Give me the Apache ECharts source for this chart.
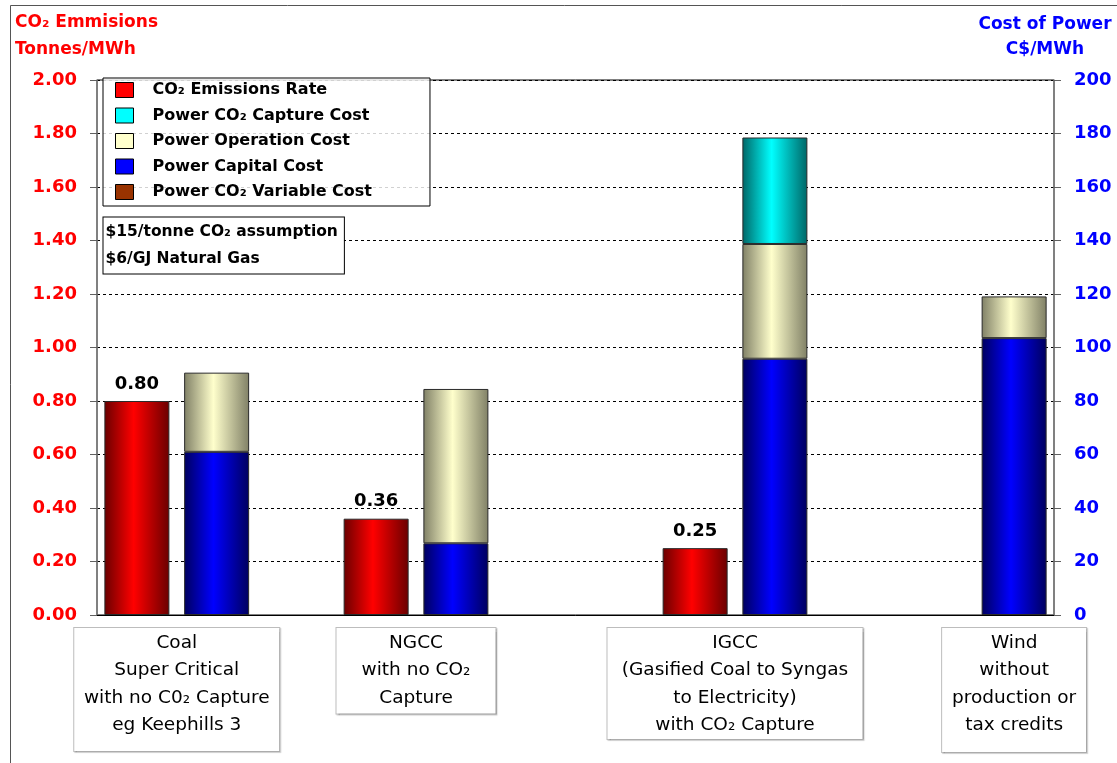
<!DOCTYPE html>
<html>
<head>
<meta charset="utf-8">
<script src="https://cdn.jsdelivr.net/npm/echarts@6/dist/echarts.min.js"></script>
<style>
html,body{margin:0;padding:0;background:#fff;}
#chart{width:1117px;height:763px;}
</style>
</head>
<body>
<div id="chart"></div>
<script>
// ---- data ----
const slots = ['Coal CO₂', 'Coal cost', 'gap1', 'NGCC CO₂', 'NGCC cost', 'gap2', 'gap3', 'IGCC CO₂', 'IGCC cost', 'gap4', 'Wind CO₂', 'Wind cost'];
const plants = ['Coal', 'NGCC', 'IGCC', 'Wind'];
const plantLabels = [
  'Coal\nSuper Critical\nwith no C0₂ Capture\neg Keephills 3',
  'NGCC\nwith no CO₂\nCapture',
  'IGCC\n(Gasified Coal to Syngas\nto Electricity)\nwith CO₂ Capture',
  'Wind\nwithout\nproduction or\ntax credits'
];
const co2Rate = [0.80, 0.36, 0.25, 0];
const capitalCost = [61, 26.8, 95.8, 103.5];
const operationCost = [29.6, 57.7, 42.9, 15.6];
const captureCost = [0, 0, 39.8, 0];
const variableCost = [0, 0, 0, 0];
const seriesNames = ['CO₂ Emissions Rate', 'Power CO₂ Capture Cost', 'Power Operation Cost', 'Power Capital Cost', 'Power CO₂ Variable Cost'];

// ---- build ----
const FONT = '"DejaVu Sans"';
function slotData(values, suffix) {
  return slots.map(s => {
    const i = plants.findIndex(p => s === p + suffix);
    return (i >= 0 && values[i] > 0) ? values[i] : '-';
  });
}
function grad(edge, mid) {
  return { type: 'linear', x: 0, y: 0, x2: 1, y2: 0,
    colorStops: [{ offset: 0, color: edge }, { offset: 0.45, color: mid }, { offset: 1, color: edge }] };
}
const boxStyles = [
  { width: 203, padding: [1, 1, 12, 1] },
  { width: 157, padding: [1, 1, 2, 1] },
  { width: 253, padding: [1, 1, 0, 1] },
  { width: 142, padding: [1, 1, 13, 1] }
];
const labelAxisData = [];
for (let k = 0; k <= slots.length * 2; k++) labelAxisData.push({ value: '' });
plants.forEach((p, i) => {
  const cs = slots.indexOf(p + ' cost');
  const k = co2Rate[i] > 0 ? 2 * cs : 2 * cs + 1;
  labelAxisData[k] = {
    value: plantLabels[i],
    textStyle: Object.assign({
      backgroundColor: '#fff', borderColor: '#bdbdbd', borderWidth: 1,
      shadowColor: 'rgba(0,0,0,0.18)', shadowOffsetX: 1, shadowOffsetY: 1, shadowBlur: 1
    }, boxStyles[i])
  };
});

const BW = 65;
const border = { borderColor: '#2a2a2a', borderWidth: 1 };
const option = {
  animation: false,
  backgroundColor: '#fff',
  grid: { left: 97, right: 63, top: 80, bottom: 148, show: true, borderColor: '#000', borderWidth: 1, backgroundColor: 'transparent' },
  xAxis: [
    { type: 'category', data: slots, gridIndex: 0, position: 'bottom',
      axisLine: { show: true, lineStyle: { color: '#000', width: 1 } },
      axisTick: { show: false }, axisLabel: { show: false }, splitLine: { show: false } },
    { type: 'category', data: labelAxisData, gridIndex: 0, position: 'bottom', boundaryGap: false,
      axisLine: { show: false }, axisTick: { show: false }, splitLine: { show: false },
      axisLabel: { interval: 0, margin: 13, color: '#000', fontFamily: FONT, fontSize: 18.5,
        lineHeight: 27.5, align: 'center', hideOverlap: false } }
  ],
  yAxis: [
    { type: 'value', min: 0, max: 2, interval: 0.2, position: 'left',
      axisLine: { show: true, lineStyle: { color: '#808080', width: 1.5 } },
      axisTick: { show: true, inside: false, length: 7, lineStyle: { color: '#606060' } },
      axisLabel: { margin: 20, color: '#ff0000', fontFamily: FONT, fontWeight: 'bold', fontSize: 18,
        formatter: v => v.toFixed(2) },
      splitLine: { show: true, lineStyle: { color: '#000', type: [3, 3], width: 1 } } },
    { type: 'value', min: 0, max: 200, interval: 20, position: 'right',
      axisLine: { show: true, lineStyle: { color: '#808080', width: 1.5 } },
      axisTick: { show: true, inside: false, length: 7, lineStyle: { color: '#606060' } },
      axisLabel: { margin: 20, color: '#0000ff', fontFamily: FONT, fontWeight: 'bold', fontSize: 18 },
      splitLine: { show: false } }
  ],
  legend: {
    orient: 'vertical', left: 103, top: 78, padding: [1, 58, 3, 12],
    itemWidth: 18, itemHeight: 15, itemGap: 3.5, icon: 'rect',
    backgroundColor: 'rgba(255,255,255,0.82)', borderColor: '#000', borderWidth: 1,
    selectedMode: false,
    textStyle: { fontFamily: FONT, fontWeight: 'bold', fontSize: 16, color: '#000', lineHeight: 18, padding: [4, 0, 0, 14] },
    data: [
      { name: seriesNames[0], itemStyle: { color: '#ff0000', borderColor: '#000', borderWidth: 1 } },
      { name: seriesNames[1], itemStyle: { color: '#00ffff', borderColor: '#000', borderWidth: 1 } },
      { name: seriesNames[2], itemStyle: { color: '#ffffcc', borderColor: '#000', borderWidth: 1 } },
      { name: seriesNames[3], itemStyle: { color: '#0000ff', borderColor: '#000', borderWidth: 1 } },
      { name: seriesNames[4], itemStyle: { color: '#993300', borderColor: '#000', borderWidth: 1 } }
    ]
  },
  series: [
    { name: seriesNames[0], type: 'bar', xAxisIndex: 0, yAxisIndex: 0, barWidth: BW, barGap: '-100%',
      data: slotData(co2Rate, ' CO₂'),
      itemStyle: Object.assign({ color: grad('#6a0000', '#ff0000') }, border),
      label: { show: true, position: 'top', distance: 8, color: '#000', fontFamily: FONT, fontWeight: 'bold', fontSize: 18,
        formatter: p => Number(p.value).toFixed(2) } },
    { name: seriesNames[3], type: 'bar', xAxisIndex: 0, yAxisIndex: 1, stack: 'cost', barWidth: BW, barGap: '-100%',
      data: slotData(capitalCost, ' cost'),
      itemStyle: Object.assign({ color: grad('#00005e', '#0000ff') }, border) },
    { name: seriesNames[2], type: 'bar', xAxisIndex: 0, yAxisIndex: 1, stack: 'cost', barWidth: BW, barGap: '-100%',
      data: slotData(operationCost, ' cost'),
      itemStyle: Object.assign({ color: grad('#808066', '#ffffcc') }, border) },
    { name: seriesNames[1], type: 'bar', xAxisIndex: 0, yAxisIndex: 1, stack: 'cost', barWidth: BW, barGap: '-100%',
      data: slotData(captureCost, ' cost'),
      itemStyle: Object.assign({ color: grad('#006666', '#00ffff') }, border) },
    { name: seriesNames[4], type: 'bar', xAxisIndex: 0, yAxisIndex: 1, stack: 'cost', barWidth: BW, barGap: '-100%',
      data: slotData(variableCost, ' cost'),
      itemStyle: Object.assign({ color: '#993300' }, border) }
  ],
  graphic: [
    { type: 'rect', silent: true, z: 0, shape: { x: 10.5, y: 5.5, width: 1300, height: 900 },
      style: { fill: 'none', stroke: '#555', lineWidth: 1 } },
    { type: 'text', silent: true, x: 15, y: 23, style: { text: 'CO₂ Emmisions', fill: '#ff0000', font: 'bold 17px ' + FONT, align: 'left', verticalAlign: 'middle' } },
    { type: 'text', silent: true, x: 15, y: 50, style: { text: 'Tonnes/MWh', fill: '#ff0000', font: 'bold 17px ' + FONT, align: 'left', verticalAlign: 'middle' } },
    { type: 'text', silent: true, x: 1045, y: 25, style: { text: 'Cost of Power', fill: '#0000ff', font: 'bold 17px ' + FONT, align: 'center', verticalAlign: 'middle' } },
    { type: 'text', silent: true, x: 1045, y: 50, style: { text: 'C$/MWh', fill: '#0000ff', font: 'bold 17px ' + FONT, align: 'center', verticalAlign: 'middle' } },
    { type: 'text', silent: true, z: 20, x: 103.5, y: 217.5,
      style: { text: '$15/tonne CO₂ assumption\n$6/GJ Natural Gas', fill: '#000', font: 'bold 15.5px ' + FONT,
        lineHeight: 27, backgroundColor: '#fff', borderColor: '#000', borderWidth: 1, padding: [1, 6, 1, 2] } }
  ]
};
const chart = echarts.init(document.getElementById('chart'));
chart.setOption(option);
</script>
</body>
</html>
